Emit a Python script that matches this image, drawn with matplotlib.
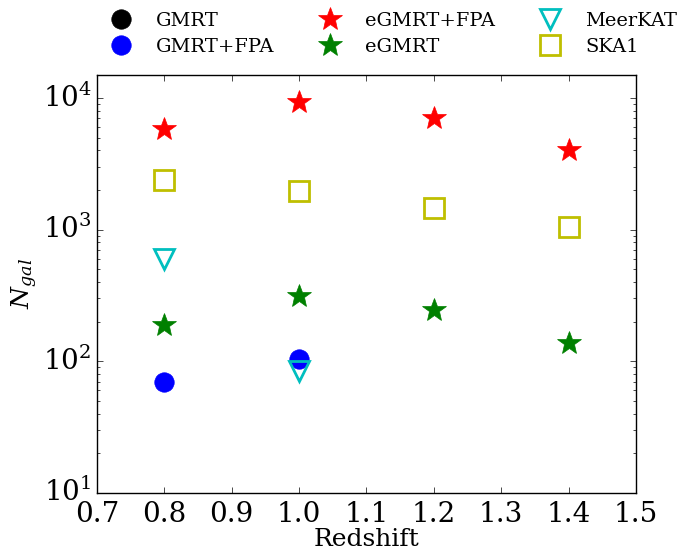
import matplotlib
matplotlib.use('Agg')
import matplotlib.pyplot as plt

# Data
z = [0.8, 1.0, 1.2, 1.4]
gmrt_z, gmrt = [], []
gmrt_fpa_z, gmrt_fpa = [0.8, 1.0], [70, 104]
egmrt_fpa = [5800, 9400, 7100, 4050]
egmrt = [190, 315, 245, 137]
meerkat_z, meerkat = [0.8, 1.0], [595, 84]
ska1 = [2400, 1980, 1450, 1045]

plt.style.use('classic')
plt.rcParams['font.family'] = 'serif'
plt.rcParams['font.serif'] = ['DejaVu Serif']
plt.rcParams['mathtext.fontset'] = 'dejavuserif'

fig = plt.figure(figsize=(6.83, 5.5), dpi=100)
ax = fig.add_axes([0.142, 0.104, 0.789, 0.760])

ms = 14
ax.plot(gmrt_z, gmrt, 'o', color='k', ms=ms, mec='k', label='GMRT')
ax.plot(gmrt_fpa_z, gmrt_fpa, 'o', color='b', ms=ms, mec='b', label='GMRT+FPA')
ax.plot(z, egmrt_fpa, '*', color='r', ms=ms + 4, mec='r', label='eGMRT+FPA')
ax.plot(z, egmrt, '*', color='g', ms=ms + 4, mec='g', label='eGMRT')
ax.plot(meerkat_z, meerkat, 'v', mfc='none', mec='c', mew=2, ms=ms, label='MeerKAT')
ax.plot(z, ska1, 's', mfc='none', mec='y', mew=2, ms=ms, label='SKA1')

ax.set_yscale('log')
ax.set_xlim(0.7, 1.5)
ax.set_ylim(10, 1.5e4)
ax.set_xticks([0.7, 0.8, 0.9, 1.0, 1.1, 1.2, 1.3, 1.4, 1.5])
ax.tick_params(labelsize=20)
ax.tick_params(axis='x', pad=6)
ax.set_xlabel('Redshift', fontsize=18, labelpad=0)
ax.set_ylabel(r'$N_{gal}$', fontsize=18, labelpad=2)

fig.legend(loc='upper center', bbox_to_anchor=(0.570, 1.01), ncol=3,
           frameon=False, numpoints=1, fontsize=14, columnspacing=1.85,
           handletextpad=0.8, labelspacing=0.4)

fig.savefig('out.png', dpi=100)
